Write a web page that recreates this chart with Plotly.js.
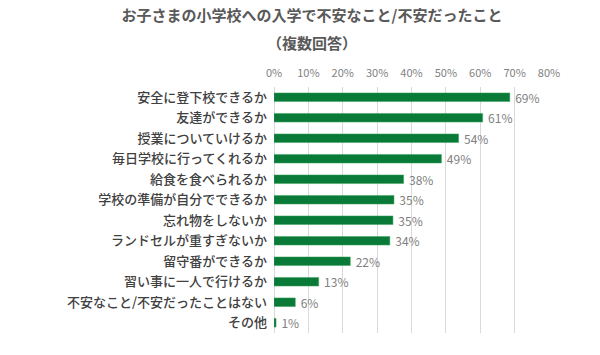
<!DOCTYPE html>
<html>
<head>
<meta charset="utf-8">
<script src="https://cdn.plot.ly/plotly-3.0.1.min.js"></script>
<style>html,body{margin:0;padding:0;background:#fff;}#chart{width:600px;height:355px;}</style>
</head>
<body>
<div id="chart"></div>
<script>
const titleLine1 = 'お子さまの小学校への入学で不安なこと/不安だったこと';
const titleLine2 = '（複数回答）';
const categories = [
  '安全に登下校できるか',
  '友達ができるか',
  '授業についていけるか',
  '毎日学校に行ってくれるか',
  '給食を食べられるか',
  '学校の準備が自分でできるか',
  '忘れ物をしないか',
  'ランドセルが重すぎないか',
  '留守番ができるか',
  '習い事に一人で行けるか',
  '不安なこと/不安だったことはない',
  'その他'
];
const values = [68.6, 60.7, 53.7, 48.7, 37.7, 34.9, 34.6, 33.7, 22.2, 13.0, 6.2, 0.6];
const xTickVals = [0, 10, 20, 30, 40, 50, 60, 70, 80];

const FONT = '"Noto Sans CJK JP", "Noto Sans", sans-serif';

const trace = {
  type: 'bar',
  orientation: 'h',
  y: categories,
  x: values,
  marker: {color: '#0a7a38', line: {color: '#3aa35e', width: 0.5}},
  width: 0.42,
  text: values.map(v => '\u2009' + Math.round(v) + '%'),
  textposition: 'outside',
  constraintext: 'none',
  cliponaxis: false,
  textfont: {family: FONT, size: 12, color: '#808080'},
  hoverinfo: 'skip'
};

const layout = {
  width: 600,
  height: 355,
  paper_bgcolor: '#ffffff',
  plot_bgcolor: '#ffffff',
  margin: {l: 274, r: 51, t: 87, b: 22},
  showlegend: false,
  title: {
    text: titleLine1,
    font: {family: FONT, size: 15, color: '#595959', weight: 'bold'},
    x: 312 / 600, xref: 'container', xanchor: 'center',
    y: 1 - 16 / 355, yref: 'container', yanchor: 'middle'
  },
  annotations: [{
    text: titleLine2,
    xref: 'paper', yref: 'paper',
    x: (312 - 274) / 275, xanchor: 'center',
    y: 1 + (87 - 43) / 246, yanchor: 'middle',
    showarrow: false,
    font: {family: FONT, size: 15, color: '#595959', weight: 'bold'}
  }],
  xaxis: {
    side: 'top',
    range: [0, 80],
    tickvals: xTickVals,
    ticktext: xTickVals.map(v => v + '%'),
    showgrid: true,
    gridcolor: '#d9d9d9',
    gridwidth: 1,
    zeroline: true,
    zerolinecolor: '#d9d9d9',
    showline: false,
    ticks: '',
    ticklabelstandoff: 7,
    tickfont: {family: FONT, size: 11, color: '#7f7f7f'},
    fixedrange: true
  },
  yaxis: {
    autorange: 'reversed',
    type: 'category',
    showgrid: false,
    showline: false,
    zeroline: false,
    ticks: '',
    ticklabelstandoff: 6,
    tickfont: {family: FONT, size: 13, color: '#404040', weight: 500},
    fixedrange: true
  }
};

Plotly.newPlot('chart', [trace], layout, {displayModeBar: false, staticPlot: true});
</script>
</body>
</html>
